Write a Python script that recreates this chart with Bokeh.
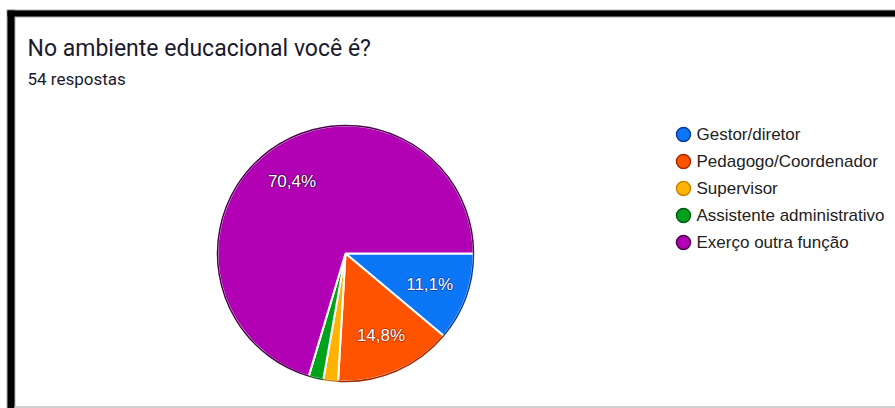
import numpy as np
from bokeh.plotting import figure
from bokeh.models import Range1d, ColumnDataSource
from bokeh.core.properties import value
from bokeh.embed import file_html
from bokeh.resources import INLINE

# ---- data ----
title = "No ambiente educacional você é?"
subtitle = "54 respostas"
categories = ["Gestor/diretor", "Pedagogo/Coordenador", "Supervisor",
              "Assistente administrativo", "Exerço outra função"]
counts = [6, 8, 1, 1, 38]
colors = ["#0b76f6", "#ff5300", "#ffb300", "#00a21c", "#b200b4"]
edge_colors = ["#0a3c9c", "#a52a00", "#c98400", "#005c12", "#4a004c"]

# ---- layout constants ----
W, H = 895, 408
cx, cy, R = 345, H - 253, 128
label_r = 0.70 * R

p = figure(width=W, height=H, x_range=Range1d(0, W), y_range=Range1d(0, H),
           output_backend="svg", toolbar_location=None, min_border=0,
           x_axis_type=None, y_axis_type=None)
p.grid.visible = False
p.outline_line_color = None
p.background_fill_color = "white"
p.border_fill_color = "white"

# frame of the screenshot
p.line(x=[7, W], y=[H - 13, H - 13], line_color="#b0b0b0", line_width=8)
p.line(x=[10.5, 10.5], y=[0, H - 9], line_color="#b0b0b0", line_width=9)
p.line(x=[7, W], y=[H - 13, H - 13], line_color="black", line_width=6)
p.line(x=[10.5, 10.5], y=[0, H - 10], line_color="black", line_width=7)
p.line(x=[14, W], y=[1.5, 1.5], line_color="#cfcfcf", line_width=2)

# ---- pie ----
counts_arr = np.array(counts, dtype=float)
frac = counts_arr / counts_arr.sum()
cum_after = np.cumsum(frac)
cum_before = cum_after - frac
start = -cum_after * 2 * np.pi
end = -cum_before * 2 * np.pi
mid = -(cum_before + frac / 2) * 2 * np.pi

src = ColumnDataSource(dict(start=start, end=end, color=colors, edge=edge_colors,
                            cat=categories))
p.wedge(x=cx, y=cy, radius=R, start_angle="start", end_angle="end",
        fill_color="color", line_color="white", line_width=2, source=src)
p.arc(x=cx, y=cy, radius=R, start_angle="start", end_angle="end",
      line_color="edge", line_width=1.5, source=src)

# percentage labels
lx, ly, lt, le = [], [], [], []
for f, m, e in zip(frac, mid, edge_colors):
    if f >= 0.05:
        lx.append(cx + label_r * np.cos(m))
        ly.append(cy + label_r * np.sin(m))
        lt.append(f"{f*100:.1f}".replace(".", ",") + "%")
        le.append(e)
for dx, dy in [(-1, 0), (1, 0), (0, -1), (0, 1)]:
    p.text(x=[v + dx for v in lx], y=[v + dy for v in ly], text=lt,
           text_color=le, text_alpha=0.75, text_font=value("Liberation Sans"),
           text_font_size="17px", text_align="center", text_baseline="middle")
p.text(x=lx, y=ly, text=lt, text_color="white", text_font=value("Liberation Sans"),
       text_font_size="17px", text_align="center", text_baseline="middle")

# ---- legend ----
leg_y = [H - (134 + 27 * i) for i in range(len(categories))]
p.scatter(x=[683] * len(categories), y=leg_y, size=14, fill_color=colors,
          line_color=edge_colors, line_width=1.5)
p.text(x=[696] * len(categories), y=leg_y, text=categories, text_color="#222222",
       text_font=value("Liberation Sans"), text_font_size="17px",
       text_baseline="middle")

# ---- titles ----
p.text(x=[27], y=[H - 48], text=[title], text_color="#1a1a2e",
       text_font=value("Roboto"), text_font_size="23px", text_baseline="alphabetic")
p.text(x=[27], y=[H - 78], text=[subtitle], text_color="#1a1a2e",
       text_font=value("Roboto"), text_font_size="17px", text_baseline="alphabetic")

open("out.html", "w").write(file_html(p, INLINE))
